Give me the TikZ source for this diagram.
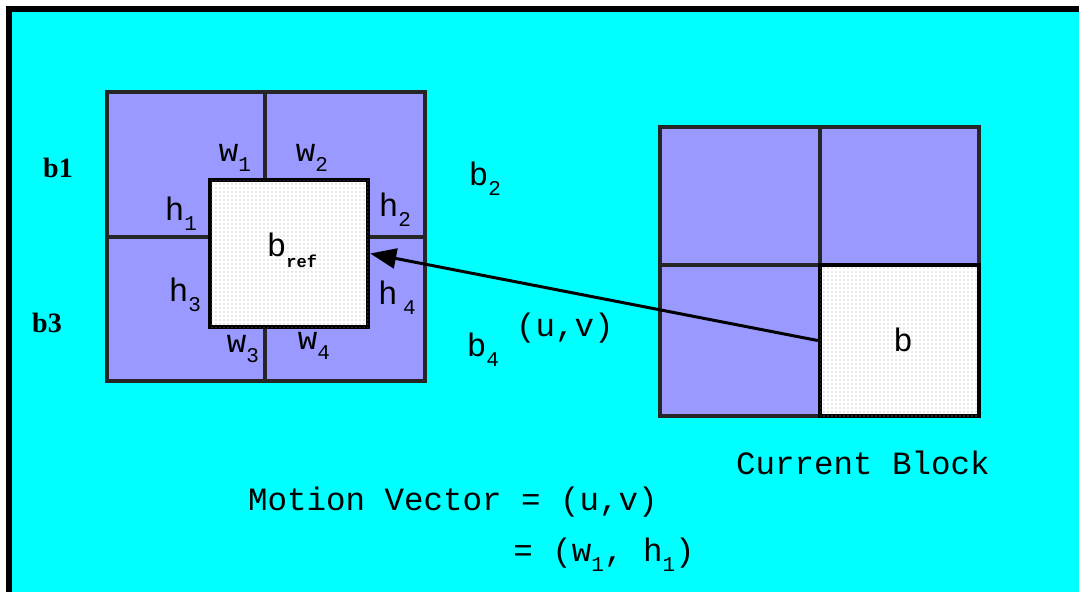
\documentclass[tikz,border=0pt]{standalone}
\usepackage{fontspec}
\setmainfont{Liberation Serif}
\newfontfamily\courfont{Liberation Mono}
\usetikzlibrary{arrows.meta,patterns}
\definecolor{aqua}{HTML}{00FFFF}
\definecolor{periwinkle}{HTML}{9999FF}
\newcommand{\lowsub}[1]{\raisebox{-0.32em}{\fontsize{21}{21}\selectfont #1}}
\pgfdeclarepatternformonly{sparsedots}{\pgfqpoint{-1pt}{-1pt}}{\pgfqpoint{1pt}{1pt}}%
  {\pgfqpoint{4pt}{4pt}}{\pgfpathcircle{\pgfqpoint{0pt}{0pt}}{0.65pt}\pgfusepath{fill}}

\begin{document}
\begin{tikzpicture}[x=1pt, y=-1pt,
    bluecell/.style={draw=black!85, line width=3.5pt, fill=periwinkle},
    dotcell/.style={draw=black, line width=4.5pt, fill=white,
      postaction={pattern=sparsedots, pattern color=gray!80}},
    lab/.style={font=\courfont\fontsize{32.5}{32.5}\selectfont, inner sep=0pt},
    blk/.style={font=\bfseries\fontsize{28}{28}\selectfont, inner sep=0pt}]

    % frame
    \useasboundingbox (0,0) rectangle (1079,592);
    \fill[white] (0,0) rectangle (1079,592);
    \fill[black] (6,6) rectangle (1079,592);
    \fill[aqua] (12,12) rectangle (1079,592);

    % reference frame: four blocks and b_ref
    \draw[bluecell] (107,92) rectangle (425,381);
    \draw[bluecell] (265,92) -- (265,381);
    \draw[bluecell] (107,237) -- (425,237);
    \node[dotcell, minimum width=158pt, minimum height=147pt] (ref) at (289,253.5) {};

    \node[blk] (b1) at (58,168) {b1};
    \node[blk] (b3) at (47,323) {b3};
    \node[lab] (w1) at (235,158) {w\lowsub{1}};
    \node[lab] (w2) at (312,158) {w\lowsub{2}};
    \node[lab] (h1) at (181,214) {h\lowsub{1}};
    \node[lab] (h2) at (395,210) {h\lowsub{2}};
    \node[lab] (h3) at (185,295) {h\lowsub{3}};
    \node[lab] (h4) at (397,298) {h\,\lowsub{4}};
    \node[lab] (w3) at (243,349) {w\lowsub{3}};
    \node[lab] (w4) at (314,346) {w\lowsub{4}};
    \node[lab] (bref) at (292,250) {b\raisebox{-0.35em}{\fontsize{17}{17}\selectfont\bfseries ref}};
    \node[lab] (b2) at (485,179) {b\lowsub{2}};
    \node[lab] (b4) at (483,350) {b\lowsub{4}};

    % current frame
    \draw[bluecell] (660,127) rectangle (979,416);
    \draw[bluecell] (820,127) -- (820,416);
    \draw[bluecell] (660,265) -- (979,265);
    \node[dotcell, minimum width=159pt, minimum height=151pt] (bcell) at (899.5,340.5) {};
    \node[lab] (b) at (903,340) {b};

    % motion vector
    \draw[line width=3pt, -{Triangle[length=26pt,width=20pt]}] (bcell.west) -- (ref.east);
    \node[lab] (uv) at (565,328) {(u,v)};

    \node[lab] (cur) at (863,463) {Current Block};
    \node[lab] (mv) at (453,502) {Motion Vector = (u,v)};
    \node[lab] (mv2) at (604,555) {= (w\lowsub{1}, h\lowsub{1})};
\end{tikzpicture}
\end{document}
